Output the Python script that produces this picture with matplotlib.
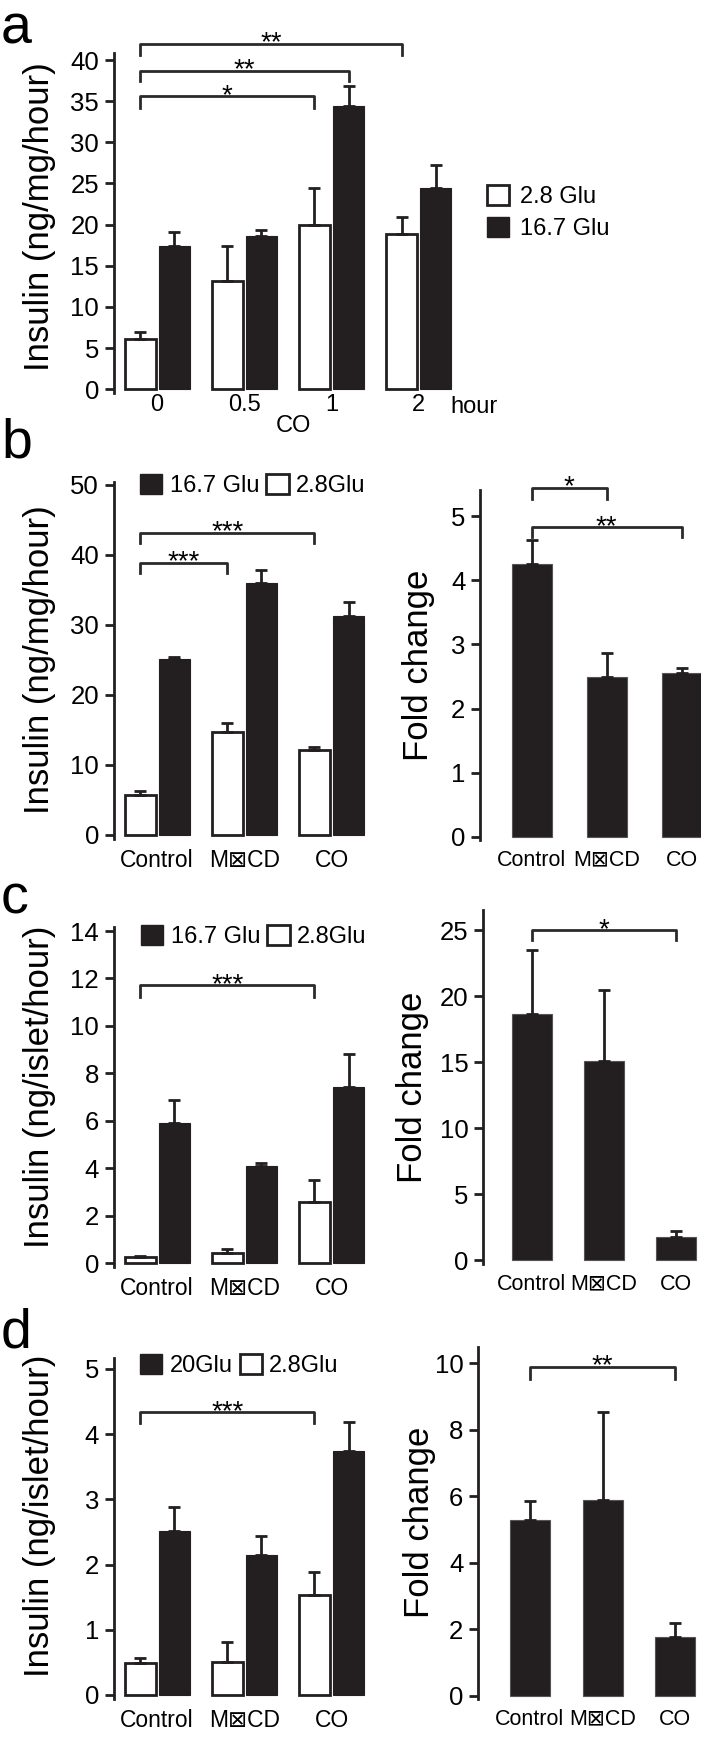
import numpy as np
import matplotlib
matplotlib.use('Agg')
import matplotlib.pyplot as plt
from matplotlib.patches import Patch

plt.rcParams['font.family'] = ['Liberation Sans', 'DejaVu Sans']

# panel a: CO exposure time course (ng/mg/hour)
a_times = ['0', '0.5', '1', '2']
a_low = [6.1, 13.2, 19.9, 18.9]
a_low_err = [0.8, 4.2, 4.5, 2.0]
a_high = [17.4, 18.6, 34.4, 24.4]
a_high_err = [1.7, 0.7, 2.4, 2.8]

groups = ['Control', 'M\u22a0CD', 'CO']

# panel b
b_high = [25.2, 36.0, 31.3]
b_high_err = [0.2, 1.8, 2.0]
b_low = [5.7, 14.7, 12.1]
b_low_err = [0.6, 1.3, 0.5]
b_fold = [4.26, 2.49, 2.55]
b_fold_err = [0.36, 0.38, 0.08]

# panel c
c_high = [5.93, 4.1, 7.42]
c_high_err = [0.95, 0.14, 1.38]
c_low = [0.28, 0.42, 2.6]
c_low_err = [0.04, 0.17, 0.91]
c_fold = [18.66, 15.1, 1.72]
c_fold_err = [4.84, 5.35, 0.48]

# panel d
d_high = [2.52, 2.15, 3.75]
d_high_err = [0.36, 0.29, 0.43]
d_low = [0.49, 0.50, 1.54]
d_low_err = [0.07, 0.31, 0.35]
d_fold = [5.3, 5.9, 1.78]
d_fold_err = [0.56, 2.62, 0.42]

W, H = 701, 1738
dark = '#231f20'
line_c = '#2a2a2a'
off, bw = 0.195, 0.356
lw = 2.0
fig = plt.figure(figsize=(W / 100, H / 100), dpi=100)


def add_axes(left, right, top, bottom):
    return fig.add_axes([left / W, 1 - bottom / H, (right - left) / W, (bottom - top) / H])


def set_y(ax, zero_px, tick_px, tick_val, top, bottom):
    s = (zero_px - tick_px) / tick_val
    ax.set_ylim((zero_px - bottom) / s, (zero_px - top) / s)


def style(ax, xpad=7, xsize=16.5):
    for sp in ['top', 'right', 'bottom']:
        ax.spines[sp].set_visible(False)
    ax.spines['left'].set_linewidth(lw)
    ax.spines['left'].set_color(dark)
    ax.tick_params(axis='y', direction='out', length=6.5, width=lw, labelsize=18.5, pad=4, color=dark)
    ax.tick_params(axis='x', length=0, labelsize=xsize, pad=xpad)


def upper_err(ax, x, y, e):
    ax.errorbar(x, y, yerr=[np.zeros(len(e)), e], fmt='none', ecolor=dark,
                elinewidth=lw, capsize=4.2, capthick=lw, zorder=3)


def paired(ax, low, low_err, high, high_err):
    x = np.arange(len(low))
    ax.bar(x - off, low, width=bw, color='white', edgecolor=dark, linewidth=lw, zorder=2)
    ax.bar(x + off, high, width=bw, color=dark, edgecolor=dark, linewidth=0.8, zorder=2)
    upper_err(ax, x - off, low, low_err)
    upper_err(ax, x + off, high, high_err)
    ax.set_xticks(x)


def single(ax, vals, errs, axis_px, center_px, step_px):
    x = np.arange(len(vals))
    ax.bar(x, vals, width=40 / step_px, color=dark, edgecolor='#555555', linewidth=0.8, zorder=2)
    upper_err(ax, x, vals, errs)
    ax.set_xticks(x)
    ax.set_xticklabels(groups)
    ax.set_xlim((axis_px - center_px) / step_px, (W - center_px) / step_px)


def bracket(ax, x1, x2, y, end, label):
    ax.plot([x1, x1, x2, x2], [end, y, y, end], color=line_c, lw=lw, clip_on=False)
    ax.annotate(label, xy=((x1 + x2) / 2, y), xytext=(0, -5), textcoords='offset points',
                ha='center', va='baseline', fontsize=20, annotation_clip=False)


def ylabel(ax, text, x_px, y_px):
    ax.set_ylabel(text, fontsize=25)
    ax.yaxis.set_label_coords(x_px / W, 1 - y_px / H, transform=fig.transFigure)


def pair_legend(ax, hi_label, x_px, y_px):
    handles = [Patch(facecolor=dark, edgecolor=dark, label=hi_label),
               Patch(facecolor='white', edgecolor=dark, linewidth=lw, label='2.8Glu')]
    ax.legend(handles=handles, loc='upper left', bbox_to_anchor=(x_px / W, 1 - y_px / H),
              bbox_transform=fig.transFigure, frameon=False, ncol=2, fontsize=17,
              borderpad=0, borderaxespad=0, handlelength=0.95, handleheight=0.9,
              handletextpad=0.3, columnspacing=0.3)


# ---- a ----
ax = add_axes(113.5, 462.3, 53, 393)
paired(ax, a_low, a_low_err, a_high, a_high_err)
ax.set_xticklabels(a_times)
ax.set_xlim(-0.5, 3.5)
set_y(ax, 389.3, 60, 40, 53, 393)
ax.set_yticks(np.arange(0, 41, 5))
style(ax, xpad=1, xsize=17)
ylabel(ax, 'Insulin (ng/mg/hour)', 56, 217)
for (x1, x2), y, e, t in zip([(0 - off, 2 - off), (0 - off, 2 + off), (0 - off, 3 - off)],
                             [35.6, 38.7, 42.0], [34.2, 37.4, 40.6], ['*', '**', '**']):
    bracket(ax, x1, x2, y, e, t)
ax.legend(handles=[Patch(facecolor='white', edgecolor=dark, linewidth=lw, label='2.8 Glu'),
                   Patch(facecolor=dark, edgecolor=dark, label='16.7 Glu')],
          loc='upper left', bbox_to_anchor=(487 / W, 1 - 185 / H), bbox_transform=fig.transFigure,
          frameon=False, fontsize=17, borderpad=0, borderaxespad=0, handlelength=0.95,
          handleheight=0.9, handletextpad=0.45, labelspacing=0.4)
fig.text(474 / W, 1 - 407 / H, 'hour', ha='center', va='center', fontsize=17)
fig.text(293 / W, 1 - 426 / H, 'CO', ha='center', va='center', fontsize=17)

# ---- b ----
ax = add_axes(113.5, 375.1, 482, 839)
paired(ax, b_low, b_low_err, b_high, b_high_err)
ax.set_xticklabels(groups)
ax.set_xlim(-0.5, 2.5)
set_y(ax, 835, 485, 50, 482, 839)
ax.set_yticks(np.arange(0, 51, 10))
style(ax)
ylabel(ax, 'Insulin (ng/mg/hour)', 56, 660)
bracket(ax, -off, 1 - off, 38.9, 37.4, '***')
bracket(ax, -off, 2 - off, 43.2, 41.7, '***')
pair_legend(ax, '16.7 Glu', 140, 474)

ax = add_axes(480, 701, 490, 840)
single(ax, b_fold, b_fold_err, 480, 531.7, 75)
set_y(ax, 837, 516, 5, 490, 840)
ax.set_yticks(np.arange(0, 6, 1))
style(ax, xsize=15.5)
ylabel(ax, 'Fold change', 435, 665)
bracket(ax, 0, 1, 5.44, 5.27, '*')
bracket(ax, 0, 2, 4.83, 4.67, '**')

# ---- c ----
ax = add_axes(113.5, 375.1, 927, 1267)
paired(ax, c_low, c_low_err, c_high, c_high_err)
ax.set_xticklabels(groups)
ax.set_xlim(-0.5, 2.5)
set_y(ax, 1263.3, 931, 14, 927, 1267)
ax.set_yticks(np.arange(0, 15, 2))
style(ax)
ylabel(ax, 'Insulin (ng/islet/hour)', 56, 1087)
bracket(ax, -off, 2 - off, 11.73, 11.24, '***')
pair_legend(ax, '16.7 Glu', 141, 925)

ax = add_axes(483, 701, 910, 1264)
single(ax, c_fold, c_fold_err, 483, 531.7, 72)
set_y(ax, 1260, 930, 25, 910, 1264)
ax.set_yticks(np.arange(0, 26, 5))
style(ax, xsize=15.5)
ylabel(ax, 'Fold change', 429, 1087)
bracket(ax, 0, 2, 25.0, 24.24, '*')

# ---- d ----
ax = add_axes(113.5, 375.1, 1358, 1699)
paired(ax, d_low, d_low_err, d_high, d_high_err)
ax.set_xticklabels(groups)
ax.set_xlim(-0.5, 2.5)
set_y(ax, 1695, 1369, 5, 1358, 1699)
ax.set_yticks(np.arange(0, 6, 1))
style(ax)
ylabel(ax, 'Insulin (ng/islet/hour)', 56, 1516)
bracket(ax, -off, 2 - off, 4.34, 4.17, '***')
pair_legend(ax, '20Glu', 140, 1354)

ax = add_axes(478, 701, 1347, 1699)
single(ax, d_fold, d_fold_err, 478, 530, 72.5)
set_y(ax, 1695.7, 1363.3, 10, 1347, 1699)
ax.set_yticks(np.arange(0, 11, 2))
style(ax, xsize=15.5)
ylabel(ax, 'Fold change', 436, 1522)
bracket(ax, 0, 2, 9.9, 9.53, '**')

# panel letters
for letter, base in zip(['a', 'b', 'c', 'd'], [43, 457, 913, 1348]):
    fig.text(1 / W, 1 - base / H, letter, fontsize=40, va='baseline', ha='left')

fig.savefig('out.png', dpi=100)
